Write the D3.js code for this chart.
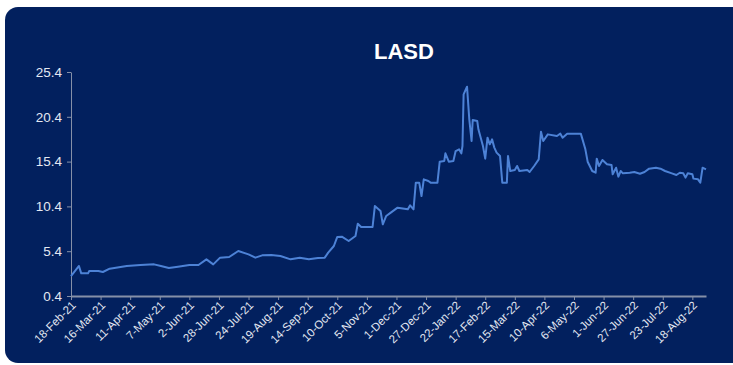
<!DOCTYPE html>
<html>
<head>
<meta charset="utf-8">
<script src="https://cdn.jsdelivr.net/npm/d3@7"></script>
<style>
  html, body { margin: 0; padding: 0; background: #ffffff; }
  svg { display: block; }
  text { font-family: "Liberation Sans", Arial, sans-serif; }
</style>
</head>
<body>
<div id="chart"></div>
<script>
// ---- Data ----
const title = "LASD";
const startDate = "2021-02-18";
// days after 18-Feb-21
const days = [0,7,9,15,16,24,28,34,49,61,73,79,86,94,104,112,119,125,131,139,147,156,162,168,176,184,193,201,209,217,223,226,231,234,238,244,250,252,255,265,267,272,274,277,281,287,296,298,301,303,306,308,310,314,316,322,324,328,329,332,336,338,341,343,344,345,348,350,352,353,357,358,362,364,366,368,370,372,374,377,379,383,384,386,390,392,394,401,403,407,411,413,415,419,427,430,432,436,448,452,454,458,461,462,464,467,471,475,476,479,481,483,485,491,495,500,504,508,514,518,522,528,532,535,538,540,542,546,547,551,553,555,558];
const prices = [2.63,3.75,2.93,2.93,3.19,3.19,3.08,3.45,3.75,3.86,3.93,3.75,3.53,3.67,3.86,3.86,4.49,3.93,4.68,4.75,5.42,5.05,4.68,4.94,4.98,4.86,4.49,4.68,4.49,4.64,4.68,5.24,5.98,6.99,7.02,6.54,7.10,8.47,8.10,8.10,10.44,9.89,8.40,9.33,9.70,10.26,10.07,10.52,10.07,13.05,13.05,11.56,13.42,13.24,13.05,13.05,15.39,15.47,16.32,15.39,15.47,16.58,16.77,16.32,17.14,22.91,23.76,20.12,17.70,20.04,19.93,19.00,17.14,15.73,18.07,17.33,17.88,16.96,16.40,16.03,13.05,13.05,16.03,14.35,14.46,14.91,14.35,14.46,14.24,14.91,15.65,18.74,17.70,18.44,18.26,18.52,18.07,18.52,18.52,16.77,15.39,14.35,14.16,15.73,14.91,15.58,15.10,15.02,13.98,14.72,13.72,14.35,14.09,14.16,14.24,14.05,14.24,14.61,14.72,14.61,14.35,14.09,13.90,14.16,14.09,13.61,14.09,13.98,13.50,13.42,13.05,14.72,14.54];
const yTicks = [0.4, 5.4, 10.4, 15.4, 20.4, 25.4];
const xTickLabels = ["18-Feb-21","16-Mar-21","11-Apr-21","7-May-21","2-Jun-21","28-Jun-21","24-Jul-21","19-Aug-21","14-Sep-21","10-Oct-21","5-Nov-21","1-Dec-21","27-Dec-21","22-Jan-22","17-Feb-22","15-Mar-22","10-Apr-22","6-May-22","1-Jun-22","27-Jun-22","23-Jul-22","18-Aug-22"];
const axisEndDate = "2022-08-30";

// ---- Setup ----
const W = 733, H = 365;
const plot = {left: 71, right: 706, top: 72, bottom: 296};
const svg = d3.select("#chart").append("svg").attr("width", W).attr("height", H);

// card background
svg.append("rect")
  .attr("x", 5).attr("y", 7).attr("width", 740).attr("height", 356)
  .attr("rx", 13).attr("ry", 13)
  .attr("fill", "#02205e");

const parse = d3.utcParse("%Y-%m-%d");
const parseLbl = d3.utcParse("%d-%b-%y");
const t0 = parse(startDate);
const data = days.map((d, i) => ({date: d3.utcDay.offset(t0, d), v: prices[i]}));
const tickDates = xTickLabels.map(s => parseLbl(s));

const x = d3.scaleUtc()
  .domain([t0, parse(axisEndDate)])
  .range([plot.left, plot.right]);
const y = d3.scaleLinear()
  .domain([0.4, 25.4])
  .range([plot.bottom, plot.top]);

const axisColor = "#8590a8";
const labelColor = "#e4e8f2";

// title
svg.append("text")
  .attr("x", 404).attr("y", 59)
  .attr("text-anchor", "middle")
  .attr("fill", "#ffffff")
  .attr("font-size", 22).attr("font-weight", "bold")
  .text(title);

// y axis
const yAxis = svg.append("g")
  .attr("transform", `translate(${plot.left},0)`)
  .call(d3.axisLeft(y).tickValues(yTicks).tickFormat(d3.format(".1f")).tickSize(4).tickSizeOuter(0));
yAxis.select(".domain").attr("stroke", axisColor).attr("stroke-width", 1);
yAxis.selectAll(".tick line").attr("stroke", axisColor);
yAxis.selectAll(".tick text")
  .attr("fill", labelColor).attr("font-size", 13.5)
  .attr("x", -9)
  .style("font-family", "'Liberation Sans', Arial, sans-serif");

// x axis
const xAxis = svg.append("g")
  .attr("transform", `translate(0,${plot.bottom})`)
  .call(d3.axisBottom(x).tickValues(tickDates).tickFormat((d, i) => xTickLabels[i]).tickSize(4).tickSizeOuter(0));
xAxis.select(".domain").attr("stroke", axisColor).attr("stroke-width", 2);
xAxis.selectAll(".tick line").attr("stroke", axisColor);
xAxis.selectAll(".tick text")
  .attr("fill", labelColor).attr("font-size", 11.5)
  .attr("text-anchor", "end")
  .attr("dy", 0).attr("y", 0)
  .attr("transform", "translate(5,10) rotate(-45)")
  .style("font-family", "'Liberation Sans', Arial, sans-serif");

// line
const line = d3.line()
  .x(d => x(d.date))
  .y(d => y(d.v));
svg.append("path")
  .datum(data)
  .attr("fill", "none")
  .attr("stroke", "#4d82d6")
  .attr("stroke-width", 2)
  .attr("stroke-linejoin", "round")
  .attr("d", line);
</script>
</body>
</html>
